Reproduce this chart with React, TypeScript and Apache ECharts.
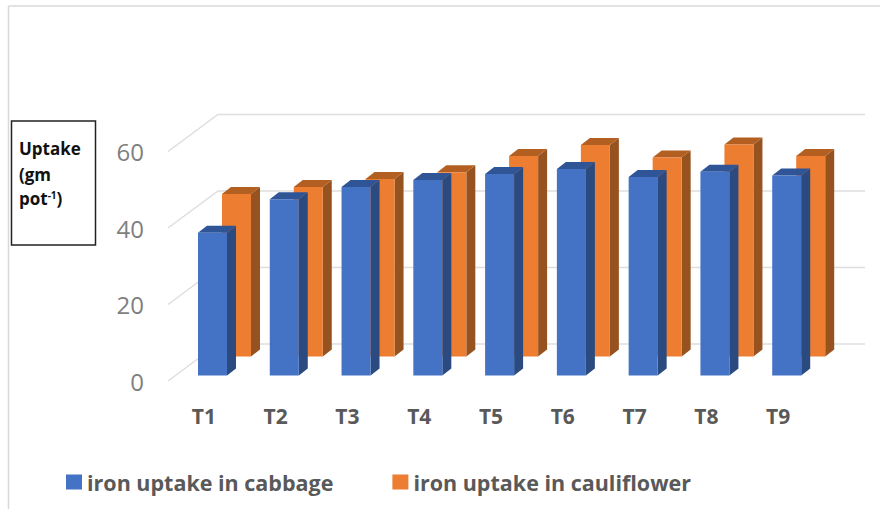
import React, { useEffect, useRef } from "react";
import * as echarts from "echarts";

const categories = ["T1", "T2", "T3", "T4", "T5", "T6", "T7", "T8", "T9"];
const cabbage = [37.3, 46.1, 49.3, 51.1, 52.7, 54, 51.9, 53.3, 52.3];
const cauliflower = [42.5, 44.3, 46.4, 48.2, 52.4, 55.3, 52, 55.4, 52.4];
const wallTicks = [0, 20, 40, 60];

const FONT = "'Open Sans', sans-serif";

function barRenderer(dx: number, dy: number, front: string, side: string, top: string) {
  return (_p: any, api: any) => {
    const [cx, yTop0] = api.coord([api.value(0), api.value(1)]);
    const [, yBase0] = api.coord([api.value(0), 0]);
    const x0 = cx + dx;
    const w = 29;
    const d = 9;
    const h = 7;
    const yTop = yTop0 + dy;
    const yBase = yBase0 + dy;
    const x1 = x0 + w;
    return {
      type: "group",
      children: [
        { type: "polygon", shape: { points: [[x1, yTop], [x1 + d, yTop - h], [x1 + d, yBase - h], [x1, yBase]] }, style: { fill: side } },
        { type: "polygon", shape: { points: [[x0, yTop], [x0 + d, yTop - h], [x1 + d, yTop - h], [x1, yTop]] }, style: { fill: top } },
        { type: "rect", shape: { x: x0, y: yTop, width: w, height: yBase - yTop }, style: { fill: front } },
      ],
    };
  };
}

function wallRenderer(_p: any, api: any) {
  const [x, y] = api.coord([0, api.value(0)]);
  const left = x - 35.9;
  return {
    type: "polyline",
    shape: { points: [[left, y], [left + 50, y - 37], [left + 697, y - 37]] },
    style: { fill: "none", stroke: "#dedede", lineWidth: 1.5 },
  };
}

export default function App() {
  const ref = useRef<HTMLDivElement>(null);
  useEffect(() => {
    const chart = echarts.init(ref.current!, undefined, { renderer: "svg" });
    chart.setOption({
      animation: false,
      backgroundColor: "#ffffff",
      grid: { left: 168, top: 151.5, width: 646, height: 229.5 },
      xAxis: {
        type: "category",
        data: categories,
        axisLine: { show: false },
        axisTick: { show: false },
        axisLabel: { interval: 0, margin: 24, fontFamily: FONT, fontWeight: "bold", fontSize: 21, color: "#595959" },
      },
      yAxis: {
        type: "value",
        min: 0,
        max: 60,
        interval: 20,
        splitLine: { show: false },
        axisLine: { show: false },
        axisTick: { show: false },
        axisLabel: { margin: 24, fontFamily: FONT, fontSize: 24, color: "#7f7f7f" },
      },
      legend: {
        left: 61,
        top: 466,
        itemWidth: 16,
        itemHeight: 15,
        itemGap: 59,
        icon: "rect",
        textStyle: { fontFamily: FONT, fontWeight: "bold", fontSize: 21.5, color: "#595959" },
        data: ["iron uptake in cabbage", "iron uptake in cauliflower"],
      },
      graphic: [
        { type: "line", shape: { x1: 8.5, y1: 6, x2: 8.5, y2: 509 }, style: { stroke: "#d9d9d9", lineWidth: 1.5 } },
        { type: "line", shape: { x1: 8.5, y1: 6, x2: 880, y2: 6 }, style: { stroke: "#d9d9d9", lineWidth: 1.5 } },
        { type: "rect", shape: { x: 11.5, y: 121, width: 84, height: 124 }, style: { fill: "#ffffff", stroke: "#222222", lineWidth: 1.5 } },
        { type: "text", x: 19, y: 140, style: { text: "Uptake", fontFamily: FONT, fontWeight: "bold", fontSize: 17, fill: "#111111" } },
        { type: "text", x: 19, y: 166, style: { text: "(gm", fontFamily: FONT, fontWeight: "bold", fontSize: 17, fill: "#111111" } },
        {
          type: "text",
          x: 19,
          y: 190,
          style: {
            text: "{a|pot}{s|-1}{a|)}",
            rich: {
              a: { fontFamily: FONT, fontWeight: "bold", fontSize: 17, fill: "#111111", verticalAlign: "bottom" },
              s: { fontFamily: FONT, fontWeight: "bold", fontSize: 10, fill: "#111111", verticalAlign: "top" },
            },
          },
        },
      ],
      series: [
        {
          type: "custom",
          name: "wall",
          silent: true,
          coordinateSystem: "cartesian2d",
          encode: { y: 0 },
          data: wallTicks.map((v) => [v]),
          renderItem: wallRenderer,
        },
        {
          type: "custom",
          name: "iron uptake in cauliflower",
          coordinateSystem: "cartesian2d",
          encode: { x: 0, y: 1 },
          itemStyle: { color: "#ed7d31" },
          data: cauliflower.map((v, i) => [i, v]),
          renderItem: barRenderer(18.1, -24.5, "#ed7d31", "#96521f", "#b35f22"),
        },
        {
          type: "custom",
          name: "iron uptake in cabbage",
          coordinateSystem: "cartesian2d",
          encode: { x: 0, y: 1 },
          itemStyle: { color: "#4472c4" },
          data: cabbage.map((v, i) => [i, v]),
          renderItem: barRenderer(-5.9, -5.5, "#4472c4", "#2b4a80", "#2f5597"),
        },
      ],
    });
    return () => chart.dispose();
  }, []);
  return <div ref={ref} style={{ position: "absolute", left: 0, top: 0, width: 880, height: 509 }} />;
}
